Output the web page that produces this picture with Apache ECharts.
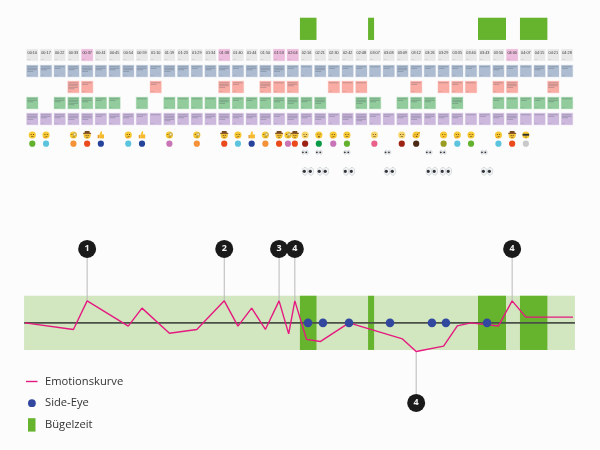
<!DOCTYPE html>
<html><head><meta charset="utf-8">
<style>html,body{margin:0;padding:0;background:#fcfcfc}#c{width:600px;height:450px}</style>
<script src="https://cdn.jsdelivr.net/npm/echarts@6/dist/echarts.min.js"></script>
</head><body><div id="c"></div>
<script>
const timeLabels = ['00:10','00:17','00:22','00:33','00:37','00:41','00:45','00:54','00:59','01:10','01:19','01:23','01:29','01:34','01:38','01:40','01:44','01:50','01:53','02:04','02:16','02:21','02:30','02:42','02:48','03:07','03:08','03:09','03:12','03:26','03:29','03:35','03:40','03:43','03:50','04:00','04:07','04:15','04:21','04:28'];
const highlightedTimes = [4,14,18,19,35];
const blueLines   = [4,3,2,3,4,3,3,4,3,2,4,3,2,3,3,2,3,4,4,2,1,4,2,2,2,1,2,4,2,2,2,2,2,1,3,2,1,3,2,2];
const redLines    = [0,0,0,5,2,0,0,0,0,2,0,0,0,0,4,2,0,4,1,3,0,0,1,1,1,0,0,0,2,0,1,2,1,0,2,4,0,0,4,0];
const greenLines  = [3,0,3,5,3,2,2,0,1,0,1,1,1,1,4,2,2,2,3,4,3,4,0,0,4,3,0,2,3,3,0,4,0,0,2,1,2,2,3,1];
const purpleLines = [4,3,3,4,4,2,3,3,2,1,5,3,3,3,4,3,3,4,2,4,3,4,2,4,5,2,2,3,4,3,3,3,1,2,3,4,1,1,2,3];

const emojiColumns = [0,1,3,4,5,7,8,10,12,14,15,16,17,18,18.65,19.15,19.9,20.9,21.95,22.95,24.95,26.95,28,30,31,32,34,35,36];
const emojiKinds = ['smile','think','monocle','cowboy','thumb','think','thumb','monocle','monocle','cowboy','think','thumb','monocle','cowboy','monocle','cowboy','pale','shush','think','smile','pale','pale','wink','kiss','think','smile','think','cowboy','cool'];
const dotKinds = ['green','cyan','orange','red','navy','cyan','navy','orchid','orange','red','cyan','navy','orange','red','orchid','red','maroon','emerald','orchid','green','rose','maroon','brown','olive','cyan','green','cyan','red','silver'];

const smallEyeColumns = [19.89,20.91,22.95,25.92,28.93,29.95,32.95];
const sideEyeColumns  = [20.11,21.2,23.1,26.09,29.15,30.17,33.17];

const ironStart = [19.52,24.49,32.51,35.57];
const ironEnd   = [20.73,24.93,34.55,37.57];

const emotionColumns = [-0.53,3,4,7,8,10,12,14,15,16,17,18,18.7,19.15,20,21,23.1,27,28,30,31,32,34,35,36,39.44];
const emotionValues  = [0,-0.3,1,-0.15,0.67,-0.47,-0.3,1,-0.15,0.67,-0.3,1,-0.5,1,-0.75,-0.85,0,-0.73,-1.3,-1.06,-0.14,0,-0.14,1,0.26,0.26];

const calloutLabels  = ['1','2','3','4','4','4'];
const calloutColumns = [4,14,18,19.15,28,35];
const calloutFrom    = [1,1,1,1,-1.3,1];
const calloutTo      = [3.36,3.36,3.36,3.36,-3.64,3.36];

const stripRange = [-0.6,39.58];
const stripHalf = 1.23;
const barRows = [-2.33,-0.94];

const palette = {green:'#63b12c',cyan:'#5cc4dc',orange:'#f59237',red:'#ea4a1c',navy:'#26439b',orchid:'#c974b6',maroon:'#9c2214',emerald:'#0b9a45',rose:'#e9608a',brown:'#4a2a14',olive:'#9a9c22',silver:'#c9c9c9'};
const cardColors = {gray:'#e8e8e8',pink:'#ecbcdc',blue:'#adbcd1',red:'#f8aca3',green:'#92cc9c',purple:'#ccb8dc'};
const XMIN=-2.356, XMAX=41.408;
const ROW={time:0,blue:1,red:2,green:3,purple:4,emoji:5,dot:5.54,smallEye:6.08,bigEye:7.27};

function cardSeries(row,color,lines){
  const data=lines.map((n,i)=>[i,row,n]).filter(d=>d[2]>0);
  return {type:'custom',xAxisIndex:0,yAxisIndex:0,silent:true,data,
    renderItem(p,api){
      const c=api.coord([api.value(0),api.value(1)]);
      const n=api.value(2);
      const kids=[{type:'rect',shape:{x:c[0]-6.2,y:c[1]-6.3,width:12.4,height:12.6},style:{fill:color,stroke:'rgba(255,255,255,.7)',lineWidth:1}}];
      for(let k=0;k<n;k++){
        kids.push({type:'rect',shape:{x:c[0]-5,y:c[1]-4.6+k*1.5,width:k===n-1&&n>1?6:9.6,height:.8},style:{fill:'rgba(40,50,70,.3)'}});
      }
      kids.push({type:'rect',shape:{x:c[0]-5,y:c[1]+4.4,width:3,height:.5},style:{fill:'rgba(40,50,70,.2)'}});
      return {type:'group',children:kids};
    }};
}
const timeSeries={type:'custom',xAxisIndex:0,yAxisIndex:0,silent:true,data:timeLabels.map((t,i)=>[i,ROW.time,t]),
  renderItem(p,api){
    const c=api.coord([api.value(0),api.value(1)]);
    const i=p.dataIndex;
    const fill=highlightedTimes.includes(i)?cardColors.pink:cardColors.gray;
    return {type:'group',children:[
      {type:'rect',shape:{x:c[0]-6.2,y:c[1]-6.3,width:12.4,height:12.6},style:{fill,stroke:'rgba(255,255,255,.7)',lineWidth:1}},
      {type:'text',style:{x:c[0],y:c[1]-2.4,text:timeLabels[i],align:'center',verticalAlign:'middle',font:'3.8px "Liberation Sans"',fill:'#3a3a3a'}},
      {type:'rect',shape:{x:c[0]-5,y:c[1]+4.4,width:3,height:.5},style:{fill:'rgba(40,40,40,.2)'}}
    ]};
  }};
function circ(cx,cy,r,fill,extra){return Object.assign({type:'circle',shape:{cx,cy,r},style:{fill}},extra||{});}
function rect(x,y,w,h,fill){return {type:'rect',shape:{x,y,width:w,height:h},style:{fill}};}
function emojiShapes(kind,x,y){
  const Y='#f6c934',D='#6b4a14';
  const a=[];
  if(kind==='thumb'){
    a.push(rect(x-1.6,y-.6,4.8,4,'#f6b92c'),rect(x-3.2,y-.1,1.4,3.4,'#e89a24'),{type:'polygon',shape:{points:[[x-1.4,y-.4],[x,y-3.8],[x+1.2,y-3.6],[x+1.1,y-.2]]},style:{fill:'#f8c22e'}});
    return a;
  }
  const base=kind==='pale'?'#f6d66c':Y;
  a.push(circ(x,y,3.6,base));
  if(kind==='cowboy'){
    a.push(circ(x,y+.6,3.2,'#f2c23a'),rect(x-4,y-2.2,8,1.2,'#8a5a2c'),rect(x-2.4,y-4,4.8,2,'#7a4c26'),rect(x-1.4,y,.9,.9,D),rect(x+.6,y,.9,.9,D),rect(x-1,y+1.9,2,.6,D));
  }else if(kind==='cool'){
    a.push(rect(x-3.2,y-1.2,6.4,1.9,'#2f2f2f'),rect(x-1,y+1.7,2.2,.6,D));
  }else if(kind==='monocle'){
    a.push(circ(x+1.3,y-.6,1.4,'#f9e9a8',{style:{fill:'#f9e9a8',stroke:'#9a8a5a',lineWidth:.6}}),rect(x-2,y-.9,.9,.9,D),rect(x-1,y+1.7,2.4,.6,D));
  }else if(kind==='think'){
    a.push(rect(x-1.5,y-1.1,.9,1,D),rect(x+.8,y-1.1,.9,1,D),rect(x-.6,y+1.1,1.9,.6,D),rect(x-2.4,y+1.8,2.6,1.4,'#e8a020'));
  }else if(kind==='shush'){
    a.push(rect(x-1.5,y-1.2,.9,1,D),rect(x+.8,y-1.2,.9,1,D),rect(x-.9,y+.9,1.8,1.5,'#8a5a14'));
  }else if(kind==='wink'){
    a.push(rect(x-1.8,y-1,1.2,.6,D),rect(x+.7,y-1.2,1,1.1,D),rect(x-.4,y+.8,1.6,1.2,'#8a4a14'),circ(x+3,y-2.2,1,'#e8a020'),rect(x-3.4,y+.4,1.6,1.8,'#e8a020'));
  }else if(kind==='kiss'){
    a.push(rect(x-1.6,y-1,1,.7,D),rect(x+.8,y-1,1,.7,D),rect(x-.3,y+1,1,1,'#c0501c'));
  }else{
    a.push(rect(x-1.6,y-1,.9,1,D),rect(x+.8,y-1,.9,1,D),rect(x-1.2,y+1.3,2.5,.6,D));
  }
  return a;
}
const emojiSeries={type:'custom',xAxisIndex:0,yAxisIndex:0,silent:true,data:emojiColumns.map(c=>[c,ROW.emoji]),
  renderItem(p,api){
    const c=api.coord([api.value(0),api.value(1)]);
    return {type:'group',children:emojiShapes(emojiKinds[p.dataIndex],c[0],c[1])};
  }};
const dotSeries={type:'scatter',xAxisIndex:0,yAxisIndex:0,silent:true,symbolSize:6.2,
  data:emojiColumns.map((c,i)=>({value:[c,ROW.dot],itemStyle:{color:palette[dotKinds[i]],opacity:1}}))};
function eyesSeries(cols,row,rx,ry,gap,pup){
  return {type:'custom',xAxisIndex:0,yAxisIndex:0,silent:true,data:cols.map(c=>[c,row]),
    renderItem(p,api){
      const c=api.coord([api.value(0),api.value(1)]);
      const kids=[];
      [-gap,gap].forEach(o=>{
        kids.push({type:'ellipse',shape:{cx:c[0]+o,cy:c[1],rx,ry},style:{fill:'#f1f4f5',stroke:'#c9ced1',lineWidth:.7}});
        kids.push({type:'circle',shape:{cx:c[0]+o-rx*.25,cy:c[1],r:pup},style:{fill:'#33333a'}});
      });
      return {type:'group',children:kids};
    }};
}
const ironTop={type:'custom',xAxisIndex:0,yAxisIndex:0,silent:true,data:ironStart.map((s,i)=>[s,ironEnd[i]]),
  renderItem(p,api){
    const a=api.coord([api.value(0),barRows[0]]), b=api.coord([api.value(1),barRows[1]]);
    return {type:'rect',shape:{x:a[0],y:a[1],width:b[0]-a[0],height:b[1]-a[1]},style:{fill:'#66b32e'}};
  }};
const strip={type:'custom',xAxisIndex:1,yAxisIndex:1,silent:true,data:[stripRange],z:1,
  renderItem(p,api){
    const a=api.coord([api.value(0),stripHalf]), b=api.coord([api.value(1),-stripHalf]);
    return {type:'rect',shape:{x:a[0],y:a[1],width:b[0]-a[0],height:b[1]-a[1]},style:{fill:'#d2e6c0'}};
  }};
const ironBands={name:'Bügelzeit',type:'custom',xAxisIndex:1,yAxisIndex:1,silent:true,z:2,itemStyle:{color:'#66b32e'},data:ironStart.map((s,i)=>[s,ironEnd[i]]),
  renderItem(p,api){
    const a=api.coord([api.value(0),stripHalf]), b=api.coord([api.value(1),-stripHalf]);
    return {type:'rect',shape:{x:a[0],y:a[1],width:b[0]-a[0],height:b[1]-a[1]},style:{fill:'#66b32e'}};
  }};
const midline={type:'line',xAxisIndex:1,yAxisIndex:1,silent:true,z:3,symbol:'none',data:stripRange.map(x=>[x,0]),lineStyle:{color:'#4b5048',width:1.6}};
const emotion={name:'Emotionskurve',type:'line',xAxisIndex:1,yAxisIndex:1,silent:true,z:4,symbol:'none',
  data:emotionColumns.map((x,i)=>[x,emotionValues[i]]),lineStyle:{color:'#e5197f',width:1.4},itemStyle:{color:'#e5197f'}};
const sideEye={name:'Side-Eye',type:'scatter',xAxisIndex:1,yAxisIndex:1,silent:true,z:5,symbolSize:8.6,
  data:sideEyeColumns.map(x=>[x,0]),itemStyle:{color:'#31489e',opacity:1}};
const stems={type:'custom',xAxisIndex:1,yAxisIndex:1,silent:true,z:3,clip:false,data:calloutColumns.map((x,i)=>[x,calloutFrom[i],calloutTo[i]]),
  renderItem(p,api){
    const a=api.coord([api.value(0),api.value(1)]), b=api.coord([api.value(0),api.value(2)]);
    return {type:'line',shape:{x1:a[0],y1:a[1],x2:b[0],y2:b[1]},style:{stroke:'#b9b9b9',lineWidth:1}};
  }};
const callouts={type:'scatter',xAxisIndex:1,yAxisIndex:1,silent:true,z:6,symbolSize:18,
  data:calloutColumns.map((x,i)=>({value:[x,calloutTo[i]],label:{formatter:calloutLabels[i]}})),
  itemStyle:{color:'#1a1a1a',opacity:1},
  label:{show:true,position:'inside',color:'#f2f2f2',fontFamily:'Open Sans',fontSize:9,fontWeight:'bold'}};

const option={
  animation:false,backgroundColor:'#fcfcfc',
  grid:[{left:0,right:0,top:7,height:176},{left:0,right:0,top:229.35,height:192.5}],
  xAxis:[{type:'value',min:XMIN,max:XMAX,show:false,gridIndex:0},{type:'value',min:XMIN,max:XMAX,show:false,gridIndex:1}],
  yAxis:[{type:'value',min:-3,max:8,inverse:true,show:false,gridIndex:0},{type:'value',min:-4.5,max:4.25,show:false,gridIndex:1}],
  legend:{orient:'vertical',left:26,top:374.5,padding:0,itemWidth:14,itemHeight:14,itemGap:7.7,selectedMode:false,
    textStyle:{fontFamily:'Open Sans',fontSize:11.2,color:'#333'},
    data:[
      {name:'Emotionskurve',icon:'path://M0,0M0,6.3h11.5v1.4h-11.5zM14,14',itemStyle:{color:'#e5197f'}},
      {name:'Side-Eye',icon:'path://M0,0M2,7a3.9,3.9 0 1,0 7.8,0a3.9,3.9 0 1,0 -7.8,0zM14,14',itemStyle:{color:'#31489e'}},
      {name:'Bügelzeit',icon:'path://M0,0M2,.3h7.5v13.4h-7.5zM14,14',itemStyle:{color:'#66b32e'}}
    ]},
  series:[
    ironTop,timeSeries,
    cardSeries(ROW.blue,cardColors.blue,blueLines),
    cardSeries(ROW.red,cardColors.red,redLines),
    cardSeries(ROW.green,cardColors.green,greenLines),
    cardSeries(ROW.purple,cardColors.purple,purpleLines),
    emojiSeries,dotSeries,
    eyesSeries(smallEyeColumns,ROW.smallEye,1.5,2.1,1.7,.9),
    eyesSeries(sideEyeColumns,ROW.bigEye,2.7,4,3,1.6),
    strip,ironBands,midline,stems,emotion,sideEye,callouts
  ]
};
echarts.init(document.getElementById('c'),null,{renderer:'canvas'}).setOption(option);
</script></body></html>
